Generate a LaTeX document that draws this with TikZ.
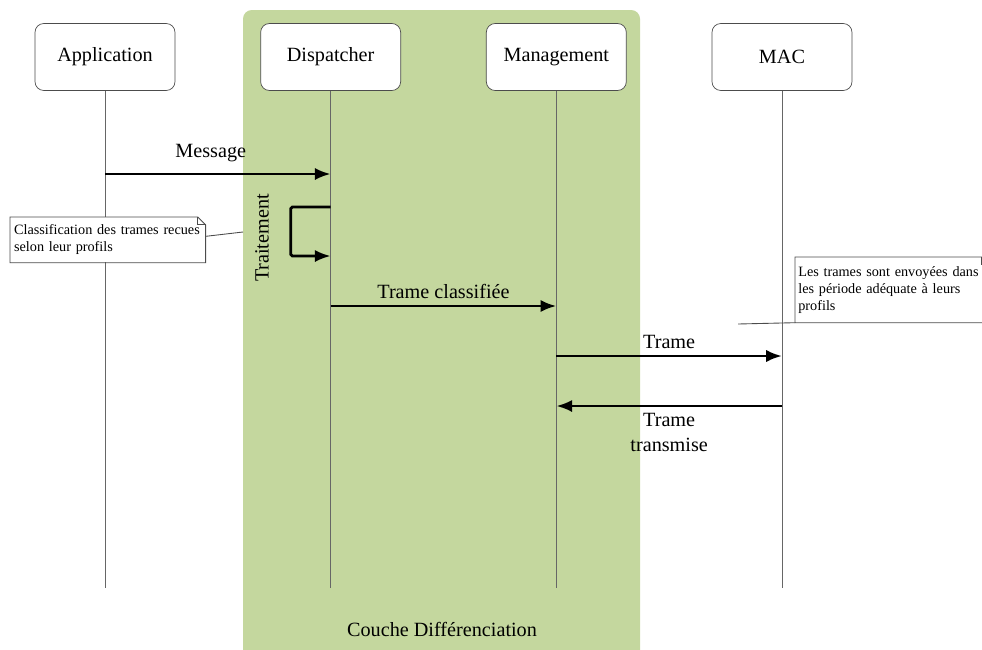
\documentclass[tikz,border=0pt]{standalone}
\usepackage{fontspec}
\setmainfont{Liberation Serif}
\usepackage{xcolor}
\usetikzlibrary{arrows.meta,positioning}

\definecolor{layergreen}{RGB}{196,215,158}

\begin{document}
\begin{tikzpicture}[
  x=0.02cm, y=-0.02cm,
  >={Latex[length=9pt,width=7pt]},
  node distance=1.7cm,
  font=\fontsize{11.5}{14}\selectfont,
  actor/.style={draw=black!70, rounded corners=5pt, fill=white, minimum width=2.8cm, minimum height=1.34cm},
  life/.style={draw=black!60, line width=0.5pt},
  msg/.style={->, line width=1.6pt},
  notebox/.style={fill=white, inner ysep=2pt, font=\fontsize{8.1}{9.8}\selectfont},
  noteline/.style={draw=black!70, line width=0.5pt}
]
\useasboundingbox (0,0) rectangle (982,649);

% layer behind the lifelines
\fill[layergreen, rounded corners=5pt] (243,10) rectangle (640,670);
\node (layer) at (442,629) {Couche Différenciation};

\node[actor] (app) at (105,57) {Application};
\node[actor, right=of app] (disp) {Dispatcher};
\node[actor, right=of disp] (mgmt) {Management};
\node[actor, right=of mgmt] (mac) {MAC};

\coordinate (bot) at (0,588);
\foreach \n in {app,disp,mgmt,mac}
  \draw[life] (\n.south) -- (\n |- bot);

\coordinate (y1) at (0,174);
\coordinate (y2) at (0,207);
\coordinate (y3) at (0,256);
\coordinate (y4) at (0,306);
\coordinate (y5) at (0,356);
\coordinate (y6) at (0,406);

\draw[msg] (app |- y1) -- node[above, yshift=3pt, xshift=-4pt] {Message} (disp |- y1);
\draw[msg, rounded corners=1pt] (disp |- y2) -- ++(-40,0) |- (disp |- y3);
\node[rotate=90] (trt) at (262,238) {Traitement};
\draw[msg] (disp |- y4) -- node[above] {Trame classifiée} (mgmt |- y4);
\draw[msg] (mgmt |- y5) -- node[above] {Trame} (mac |- y5);
\draw[msg] (mac |- y6) -- node[below, align=center] {Trame\\transmise} (mgmt |- y6);

% notes
\node[notebox, anchor=north west, text width=3.75cm, inner xsep=0.075cm, minimum height=0.9cm, align=left] (cls) at (10,217)
  {\mbox{Classification des trames recues}\\selon leur profils};
\draw[noteline] (cls.north west) -- ([xshift=-4.5pt]cls.north east) -- ([yshift=-4.5pt]cls.north east) -- (cls.south east) -- (cls.south west) -- cycle;
\draw[noteline] ([xshift=-4.5pt]cls.north east) |- ([yshift=-4.5pt]cls.north east);
\coordinate (tr) at (243,232);
\draw[noteline] ([yshift=2pt]cls.east) -- (tr);

\node[notebox, anchor=north west, text width=3.76cm, inner xsep=0.06cm, minimum height=1.3cm, align=left] (snd) at (795,257)
  {\makebox[3.76cm][s]{Les trames sont envoyées dans}\\\makebox[3.76cm][s]{les période adéquate à leurs}\\profils};
\draw[noteline] (snd.north west) -- ([xshift=-4.5pt]snd.north east) -- ([yshift=-4.5pt]snd.north east) -- (snd.south east) -- (snd.south west) -- cycle;
\draw[noteline] ([xshift=-4.5pt]snd.north east) |- ([yshift=-4.5pt]snd.north east);
\coordinate (nb) at (738,324);
\draw[noteline] (nb) -- (snd.south west);
\end{tikzpicture}
\end{document}
